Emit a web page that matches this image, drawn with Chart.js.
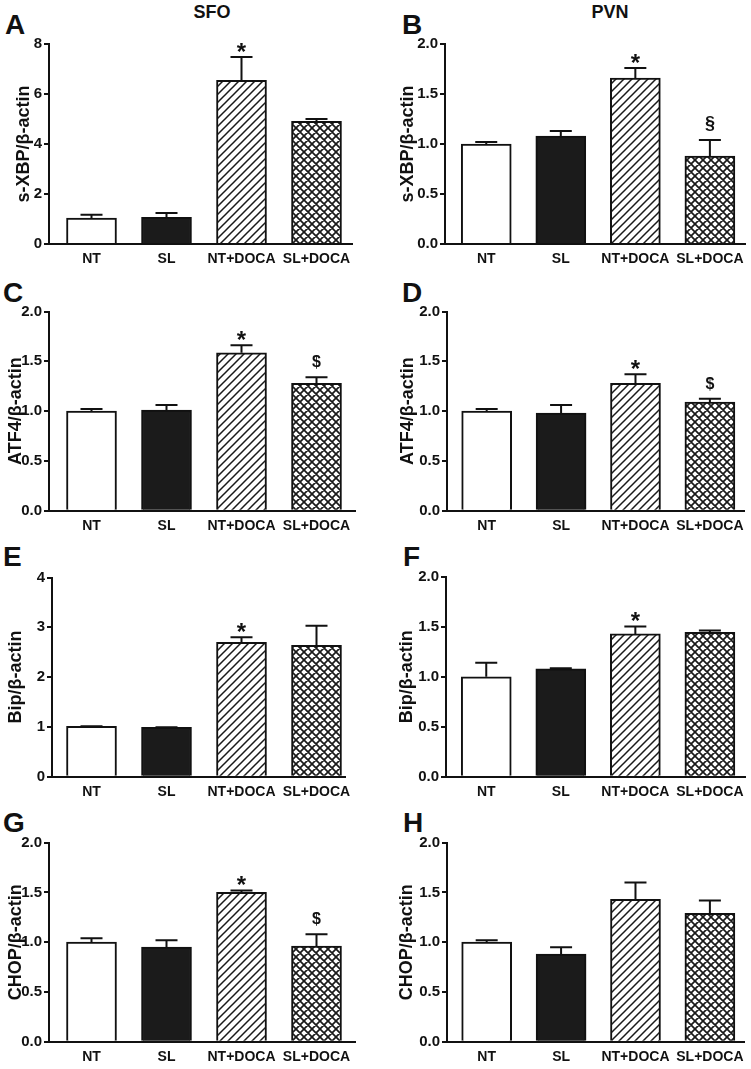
<!DOCTYPE html>
<html>
<head>
<meta charset="utf-8">
<script src="https://cdn.jsdelivr.net/npm/chart.js@4.4.0/dist/chart.umd.min.js"></script>
<style>
  body { margin: 0; background: #fff; width: 751px; height: 1069px; position: relative; overflow: hidden;
         font-family: "Liberation Sans", Arial, sans-serif; color: #111; }
  canvas { position: absolute; }
  .letter { position: absolute; font-weight: bold; font-size: 28px; line-height: 28px; }
  .coltitle { position: absolute; font-weight: bold; font-size: 18px; line-height: 18px; width: 120px; text-align: center; }
</style>
</head>
<body>
<div class="coltitle" style="left:152px; top:3px">SFO</div>
<div class="coltitle" style="left:550px; top:3px">PVN</div>
<div class="letter" style="left:5px; top:11px">A</div>
<div class="letter" style="left:402px; top:11px">B</div>
<div class="letter" style="left:3px; top:279px">C</div>
<div class="letter" style="left:402px; top:279px">D</div>
<div class="letter" style="left:3px; top:543px">E</div>
<div class="letter" style="left:403px; top:543px">F</div>
<div class="letter" style="left:3px; top:809px">G</div>
<div class="letter" style="left:403px; top:809px">H</div>

<canvas id="cA"></canvas><canvas id="cB"></canvas>
<canvas id="cC"></canvas><canvas id="cD"></canvas>
<canvas id="cE"></canvas><canvas id="cF"></canvas>
<canvas id="cG"></canvas><canvas id="cH"></canvas>

<script>
  // groups and values (mean and SEM)
  var groups = ['NT', 'SL', 'NT+DOCA', 'SL+DOCA']

  var sxbpSfoMean = [1.04, 1.07, 6.55, 4.91]
  var sxbpSfoSem = [0.13, 0.17, 0.93, 0.09]
  var sxbpSfoMarks = ['', '', '*', '']

  var sxbpPvnMean = [1.00, 1.08, 1.66, 0.88]
  var sxbpPvnSem = [0.02, 0.05, 0.10, 0.16]
  var sxbpPvnMarks = ['', '', '*', '§']

  var atf4SfoMean = [1.00, 1.01, 1.585, 1.28]
  var atf4SfoSem = [0.02, 0.05, 0.075, 0.06]
  var atf4SfoMarks = ['', '', '*', '$']

  var atf4PvnMean = [1.00, 0.98, 1.28, 1.09]
  var atf4PvnSem = [0.02, 0.08, 0.09, 0.035]
  var atf4PvnMarks = ['', '', '*', '$']

  var bipSfoMean = [1.01, 0.99, 2.70, 2.64]
  var bipSfoSem = [0.005, 0.005, 0.10, 0.39]
  var bipSfoMarks = ['', '', '*', '']

  var bipPvnMean = [1.00, 1.08, 1.43, 1.445]
  var bipPvnSem = [0.14, 0.005, 0.075, 0.02]
  var bipPvnMarks = ['', '', '*', '']

  var chopSfoMean = [1.00, 0.95, 1.50, 0.96]
  var chopSfoSem = [0.04, 0.07, 0.02, 0.12]
  var chopSfoMarks = ['', '', '*', '$']

  var chopPvnMean = [1.00, 0.88, 1.43, 1.29]
  var chopPvnSem = [0.02, 0.07, 0.17, 0.13]
  var chopPvnMarks = ['', '', '', '']

  // y tick values
  var ticksEight = [0, 2, 4, 6, 8]
  var ticksFour = [0, 1, 2, 3, 4]
  var ticksTwo = [0, 0.5, 1.0, 1.5, 2.0]

  var font = '"Liberation Sans", Arial, sans-serif'
  var ink = '#111'
  Chart.defaults.font.family = font

  // fills: open, solid, hatched, cross-hatched
  function makePattern(size, cross, lw) {
    var c = document.createElement('canvas')
    c.width = size
    c.height = size
    var g = c.getContext('2d')
    g.fillStyle = '#fff'
    g.fillRect(0, 0, size, size)
    g.strokeStyle = '#1a1a1a'
    g.lineWidth = lw
    g.beginPath()
    g.moveTo(-1, size + 1); g.lineTo(size + 1, -1)
    g.moveTo(-2, 2); g.lineTo(2, -2)
    g.moveTo(size - 2, size + 2); g.lineTo(size + 2, size - 2)
    if (cross) {
      g.moveTo(-1, -1); g.lineTo(size + 1, size + 1)
      g.moveTo(size - 2, -2); g.lineTo(size + 2, 2)
      g.moveTo(-2, size - 2); g.lineTo(2, size + 2)
    }
    g.stroke()
    return g.createPattern(c, 'repeat')
  }
  var fills = ['#fff', '#1b1b1b', makePattern(8, false, 1.5), makePattern(8, true, 1.7)]

  var panels = [
    { id: 'cA', mean: sxbpSfoMean, sem: sxbpSfoSem, marks: sxbpSfoMarks, ticks: ticksEight, dec: 0, title: 's-XBP/β-actin',
      left: 0, top: 0, w: 375, h: 268, axisL: 49, axisR: 352, plotTop: 44, plotBottom: 244, c0: 91.5, titleX: 24.5 },
    { id: 'cB', mean: sxbpPvnMean, sem: sxbpPvnSem, marks: sxbpPvnMarks, ticks: ticksTwo, dec: 1, title: 's-XBP/β-actin',
      left: 375, top: 0, w: 376, h: 268, axisL: 445, axisR: 747, plotTop: 44, plotBottom: 244, c0: 486.5, titleX: 33 },
    { id: 'cC', mean: atf4SfoMean, sem: atf4SfoSem, marks: atf4SfoMarks, ticks: ticksTwo, dec: 1, title: 'ATF4/β-actin',
      left: 0, top: 270, w: 375, h: 266, axisL: 49, axisR: 355, plotTop: 311.5, plotBottom: 510.7, c0: 91.5, titleX: 16.5 },
    { id: 'cD', mean: atf4PvnMean, sem: atf4PvnSem, marks: atf4PvnMarks, ticks: ticksTwo, dec: 1, title: 'ATF4/β-actin',
      left: 375, top: 270, w: 376, h: 266, axisL: 447, axisR: 747, plotTop: 311.5, plotBottom: 510.7, c0: 487, titleX: 33 },
    { id: 'cE', mean: bipSfoMean, sem: bipSfoSem, marks: bipSfoMarks, ticks: ticksFour, dec: 0, title: 'Bip/β-actin',
      left: 0, top: 540, w: 375, h: 265, axisL: 52, axisR: 345, plotTop: 577.5, plotBottom: 776.7, c0: 91.5, titleX: 16 },
    { id: 'cF', mean: bipPvnMean, sem: bipPvnSem, marks: bipPvnMarks, ticks: ticksTwo, dec: 1, title: 'Bip/β-actin',
      left: 375, top: 540, w: 376, h: 265, axisL: 446, axisR: 747, plotTop: 577, plotBottom: 776.7, c0: 486.5, titleX: 32.5 },
    { id: 'cG', mean: chopSfoMean, sem: chopSfoSem, marks: chopSfoMarks, ticks: ticksTwo, dec: 1, title: 'CHOP/β-actin',
      left: 0, top: 805, w: 375, h: 264, axisL: 49, axisR: 355, plotTop: 842.7, plotBottom: 1041.7, c0: 91.5, titleX: 16 },
    { id: 'cH', mean: chopPvnMean, sem: chopPvnSem, marks: chopPvnMarks, ticks: ticksTwo, dec: 1, title: 'CHOP/β-actin',
      left: 375, top: 805, w: 376, h: 264, axisL: 447, axisR: 747, plotTop: 842.7, plotBottom: 1041.7, c0: 487, titleX: 32.5 }
  ]

  // upward SEM whiskers plus significance marks
  function errorBars(p) {
    return {
      id: 'errorBars',
      afterDatasetsDraw: function(chart) {
        var ctx = chart.ctx
        var y = chart.scales.y
        var bars = chart.getDatasetMeta(0).data
        ctx.save()
        ctx.strokeStyle = ink
        ctx.fillStyle = ink
        ctx.lineWidth = 2
        bars.forEach(function(bar, i) {
          var yTop = y.getPixelForValue(p.mean[i] + p.sem[i])
          ctx.beginPath()
          ctx.moveTo(bar.x, bar.y)
          ctx.lineTo(bar.x, yTop)
          ctx.moveTo(bar.x - 11, yTop)
          ctx.lineTo(bar.x + 11, yTop)
          ctx.stroke()
          var m = p.marks[i]
          if (!m) return
          ctx.textAlign = 'center'
          ctx.textBaseline = 'alphabetic'
          if (m === '*') {
            ctx.font = 'bold 24px ' + font
            ctx.fillText(m, bar.x, yTop + 3)
          } else if (m === '§') {
            ctx.font = 'bold 18px ' + font
            ctx.fillText(m, bar.x, yTop - 11)
          } else {
            ctx.font = 'bold 16px ' + font
            ctx.fillText(m, bar.x, yTop - 10)
          }
        })
        ctx.restore()
      }
    }
  }

  panels.forEach(function(p) {
    var canvas = document.getElementById(p.id)
    canvas.width = p.w
    canvas.height = p.h
    canvas.style.left = p.left + 'px'
    canvas.style.top = p.top + 'px'

    var xMin = -(p.c0 - p.axisL) / 75
    var xMax = 3 + (p.axisR - p.c0 - 225) / 75

    new Chart(canvas, {
      type: 'bar',
      data: {
        datasets: [{
          data: p.mean.map(function(v, i) { return { x: i, y: v } }),
          backgroundColor: fills,
          borderColor: ink,
          borderWidth: 2,
          borderSkipped: 'bottom',
          barThickness: 50
        }]
      },
      options: {
        responsive: false,
        animation: false,
        devicePixelRatio: 1,
        layout: { padding: { left: 0, bottom: 0, top: p.plotTop - p.top, right: p.left + p.w - p.axisR } },
        plugins: { legend: { display: false }, tooltip: { enabled: false } },
        scales: {
          x: {
            type: 'linear',
            offset: false,
            min: xMin,
            max: xMax,
            afterBuildTicks: function(s) { s.ticks = groups.map(function(g, i) { return { value: i } }) },
            afterFit: function(s) { s.height = p.top + p.h - p.plotBottom },
            grid: { display: false, drawTicks: false },
            border: { display: true, color: ink, width: 2 },
            ticks: {
              callback: function(v) { return groups[v] },
              color: ink,
              padding: 7,
              maxRotation: 0,
              autoSkip: false,
              font: { size: 14, weight: 'bold' }
            }
          },
          y: {
            min: 0,
            max: p.ticks[p.ticks.length - 1],
            afterBuildTicks: function(s) { s.ticks = p.ticks.map(function(v) { return { value: v } }) },
            afterFit: function(s) { s.width = p.axisL - p.left },
            grid: { drawOnChartArea: false, drawTicks: true, tickLength: 5, color: ink, lineWidth: 2 },
            border: { color: ink, width: 2 },
            ticks: {
              callback: function(v) { return v.toFixed(p.dec) },
              color: ink,
              padding: 2,
              font: { size: 15, weight: 'bold' }
            },
            title: {
              display: true,
              text: p.title,
              color: ink,
              font: { size: 18, weight: 'bold', lineHeight: 1.2 },
              padding: { top: p.titleX - 10.8, bottom: 0 }
            }
          }
        }
      },
      plugins: [errorBars(p)]
    })
  })
</script>
</body>
</html>
